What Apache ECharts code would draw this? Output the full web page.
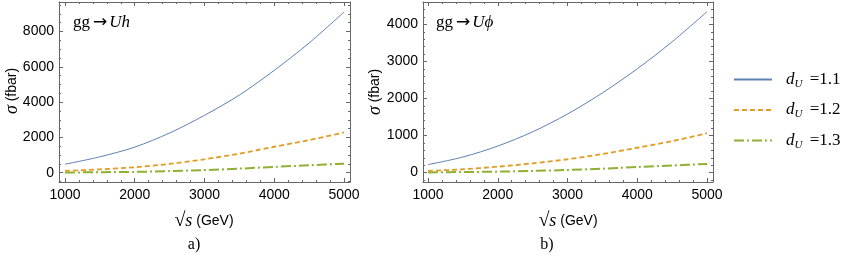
<!DOCTYPE html>
<html><head><meta charset="utf-8">
<script src="https://cdn.jsdelivr.net/npm/echarts@6/dist/echarts.min.js"></script>
<style>html,body{margin:0;padding:0;background:#fff}#c{width:858px;height:273px}</style>
</head><body><div id="c"></div>
<script>
// ---- data ----
const energies = [1000, 1500, 2000, 2500, 3000, 3500, 4000, 4500, 5000];
const uh_d11 = [480, 900, 1450, 2250, 3250, 4400, 5800, 7350, 9100];
const uh_d12 = [100, 190, 310, 500, 760, 1080, 1470, 1850, 2280];
const uh_d13 = [5, 30, 45, 90, 150, 230, 330, 420, 510];
const uphi_d11 = [215, 420, 715, 1100, 1580, 2150, 2800, 3530, 4340];
const uphi_d12 = [45, 90, 160, 250, 360, 500, 670, 850, 1060];
const uphi_d13 = [5, 15, 25, 45, 70, 105, 150, 190, 235];
const dValues = ['1.1', '1.2', '1.3'];
const xMajorTicks = [1000, 2000, 3000, 4000, 5000];
const xMinorTicks = [1200, 1400, 1600, 1800, 2200, 2400, 2600, 2800, 3200, 3400, 3600, 3800, 4200, 4400, 4600, 4800];
const yMajorTicksA = [0, 2000, 4000, 6000, 8000];
const yMinorTicksA = [-500, 500, 1000, 1500, 2500, 3000, 3500, 4500, 5000, 5500, 6500, 7000, 7500, 8500, 9000, 9500];
const yMajorTicksB = [0, 1000, 2000, 3000, 4000];
const yMinorTicksB = [-200, 200, 400, 600, 800, 1200, 1400, 1600, 1800, 2200, 2400, 2600, 2800, 3200, 3400, 3600, 3800, 4200, 4400];

const frameColor = '#666666';
const colors = ['#5E81B5', '#E19C24', '#8FB032'];
const sans = 'Liberation Sans';
const serif = 'Liberation Serif';

function pairs(ys) { return energies.map((e, i) => [e, ys[i]]); }

function axisSet(kind, grid, min, max, major, minor, showLabels) {
  const isX = kind === 'x';
  const pos = isX ? ['bottom', 'top'] : ['left', 'right'];
  const out = [];
  pos.forEach((p, k) => {
    out.push({
      type: 'value', gridIndex: grid, position: p, min: min, max: max,
      axisLine: { show: true, onZero: false, lineStyle: { color: frameColor, width: 1 } },
      axisTick: { show: true, inside: true, length: 4, customValues: major, lineStyle: { color: frameColor } },
      axisLabel: (k === 0 && showLabels) ? {
        show: true, customValues: major, color: '#000', fontFamily: sans, fontSize: 14,
        margin: isX ? 6 : 5, formatter: v => String(v)
      } : { show: false },
      splitLine: { show: false }
    });
    out.push({
      type: 'value', gridIndex: grid, position: p, min: min, max: max,
      axisLine: { show: false, onZero: false },
      axisTick: { show: true, inside: true, length: 2, customValues: minor, lineStyle: { color: frameColor } },
      axisLabel: { show: false },
      splitLine: { show: false }
    });
  });
  return out;
}

const xAxes = [].concat(
  axisSet('x', 0, 914, 5086, xMajorTicks, xMinorTicks, true),
  axisSet('x', 1, 928, 5086, xMajorTicks, xMinorTicks, true)
);
const yAxes = [].concat(
  axisSet('y', 0, -527, 9672, yMajorTicksA, yMinorTicksA, true),
  axisSet('y', 1, -254, 4603, yMajorTicksB, yMinorTicksB, true)
);

const lineStyles = [
  { width: 1, type: 'solid' },
  { width: 1.8, type: [5, 3] },
  { width: 2, type: [10, 3, 2, 3] }
];

function makeSeries(sets, axisIdx) {
  return sets.map((ys, i) => ({
    name: dValues[i], type: 'line', xAxisIndex: axisIdx, yAxisIndex: axisIdx,
    data: pairs(ys), smooth: 0.3, showSymbol: false, symbol: 'none',
    lineStyle: Object.assign({ color: colors[i] }, lineStyles[i]),
    itemStyle: { color: colors[i] },
    z: 3 - i
  }));
}

const series = [].concat(
  makeSeries([uh_d11, uh_d12, uh_d13], 0),
  makeSeries([uphi_d11, uphi_d12, uphi_d13], 4)
);

function txt(x, y, text, rich, rot) {
  return {
    type: 'text', x: x, y: y, rotation: rot || 0,
    style: { text: text, rich: rich, align: 'center', verticalAlign: 'middle', fill: '#000' }
  };
}

const richSigma = {
  s: { fontFamily: serif, fontStyle: 'italic', fontSize: 18, fill: '#000' },
  t: { fontFamily: sans, fontSize: 14, fill: '#000' }
};
const richSqrt = {
  r: { fontFamily: serif, fontSize: 20, fill: '#000' },
  s: { fontFamily: serif, fontStyle: 'italic', fontSize: 18, fill: '#000' },
  t: { fontFamily: sans, fontSize: 14, fill: '#000' }
};
const richProc = {
  g: { fontFamily: serif, fontSize: 17, fill: '#000' },
  a: { fontFamily: 'DejaVu Sans', fontSize: 17, fill: '#000', padding: [0, 2, 0, 3] },
  i: { fontFamily: serif, fontStyle: 'italic', fontSize: 17, fill: '#000' }
};
const richLab = { a: { fontFamily: serif, fontSize: 16, fill: '#000' } };

const option = {
  animation: false,
  backgroundColor: '#fff',
  grid: [
    { left: 59, top: 2, width: 291, height: 180 },
    { left: 423, top: 2, width: 290, height: 180 }
  ],
  xAxis: xAxes,
  yAxis: yAxes,
  series: series,
  legend: {
    orient: 'vertical', left: 728, top: 66, itemWidth: 38, itemHeight: 18, itemGap: 12,
    data: dValues,
    itemStyle: { opacity: 0 },
    formatter: n => '{d|d}{u|U}{e| =' + n + '}',
    textStyle: {
      rich: {
        d: { fontFamily: serif, fontStyle: 'italic', fontSize: 17, color: '#000', padding: [0, 0, 0, 9] },
        u: { fontFamily: serif, fontStyle: 'italic', fontSize: 11, color: '#000', padding: [9, 3, 0, 0] },
        e: { fontFamily: serif, fontSize: 17, color: '#000' }
      }
    }
  },
  graphic: [
    txt(12, 91, '{s|σ}{t| (fbar)}', richSigma, Math.PI / 2),
    txt(375, 92, '{s|σ}{t| (fbar)}', richSigma, Math.PI / 2),
    txt(204, 221, '{r|√}{s|s}{t| (GeV)}', richSqrt),
    txt(568, 221, '{r|√}{s|s}{t| (GeV)}', richSqrt),
    txt(194, 245, '{a|a)}', richLab),
    txt(547, 245, '{a|b)}', richLab),
    { type: 'text', x: 73, y: 23, style: { text: '{g|gg}{a|→}{i|Uh}', rich: richProc, align: 'left', verticalAlign: 'middle' } },
    { type: 'text', x: 436, y: 23, style: { text: '{g|gg}{a|→}{i|Uϕ}', rich: richProc, align: 'left', verticalAlign: 'middle' } }
  ]
};

const chart = echarts.init(document.getElementById('c'), null, { renderer: 'canvas' });
chart.setOption(option);
</script>
</body></html>
